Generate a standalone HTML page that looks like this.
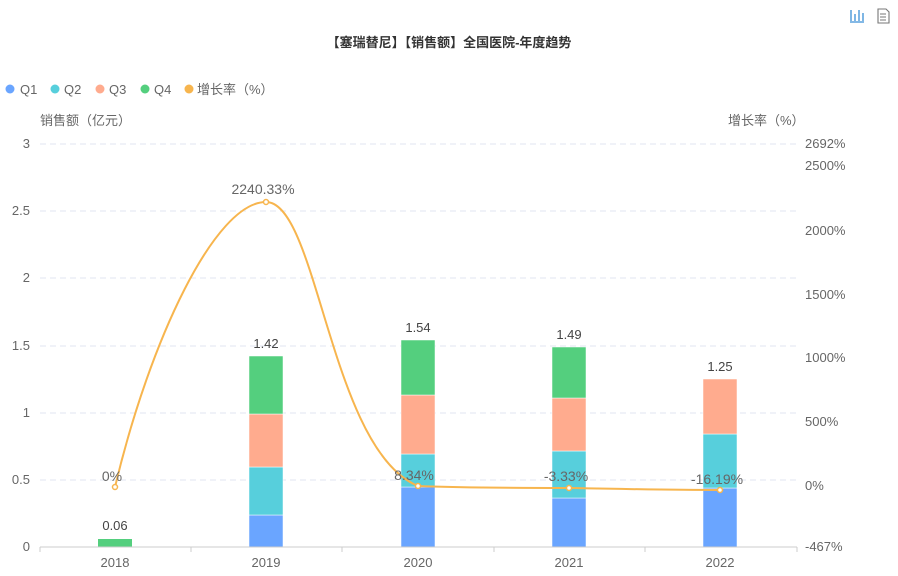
<!DOCTYPE html>
<html><head><meta charset="utf-8"><style>
body{margin:0;background:#fff;}
svg{display:block;font-family:"Liberation Sans","Noto Sans CJK SC",sans-serif;}
</style></head><body>
<svg width="898" height="576" viewBox="0 0 898 576">
<g stroke="#3a8fd6" stroke-width="1.3" fill="none"><path d="M851 10v11M855 14v7M859 10v11M863 13v8M850 22h14"/></g>
<g stroke="#777" stroke-width="1.1" fill="none"><path d="M878 9h8l3 3v11h-11z M880 14h6M880 17h6M880 20h6"/></g>
<text x="449" y="47" text-anchor="middle" font-size="13" font-weight="bold" fill="#333">【塞瑞替尼】【销售额】全国医院-年度趋势</text>
<g font-size="13" fill="#666">
<circle cx="10" cy="89" r="4.5" fill="#6aa5ff"/><text x="20" y="94">Q1</text>
<circle cx="55" cy="89" r="4.5" fill="#57cfdc"/><text x="64" y="94">Q2</text>
<circle cx="100" cy="89" r="4.5" fill="#ffab8e"/><text x="109" y="94">Q3</text>
<circle cx="145" cy="89" r="4.5" fill="#54cf7e"/><text x="154" y="94">Q4</text>
<circle cx="189" cy="89" r="4.5" fill="#f7b54e"/><text x="197" y="94">增长率（%）</text>
<text x="40" y="125">销售额（亿元）</text>
<text x="728" y="125">增长率（%）</text>
</g>
<g stroke="#e0e6f1" stroke-dasharray="6,4" stroke-width="1">
<line x1="40" y1="144" x2="797" y2="144"/><line x1="40" y1="211" x2="797" y2="211"/>
<line x1="40" y1="278" x2="797" y2="278"/><line x1="40" y1="346" x2="797" y2="346"/>
<line x1="40" y1="413" x2="797" y2="413"/><line x1="40" y1="480" x2="797" y2="480"/>
</g>
<g font-size="13" fill="#666" text-anchor="end">
<text x="30" y="148">3</text><text x="30" y="215">2.5</text><text x="30" y="282">2</text>
<text x="30" y="350">1.5</text><text x="30" y="417">1</text><text x="30" y="484">0.5</text><text x="30" y="551">0</text>
</g>
<g font-size="13" fill="#666">
<text x="805" y="148">2692%</text><text x="805" y="170">2500%</text><text x="805" y="235">2000%</text>
<text x="805" y="299">1500%</text><text x="805" y="362">1000%</text><text x="805" y="426">500%</text>
<text x="805" y="490">0%</text><text x="805" y="551">-467%</text>
</g>
<rect x="98" y="539" width="34" height="8" fill="#54cf7e"/>
<g stroke="#fff" stroke-width="0.5">
<rect x="249" y="515" width="34" height="32" fill="#6aa5ff"/>
<rect x="249" y="467" width="34" height="48" fill="#57cfdc"/>
<rect x="249" y="414" width="34" height="53" fill="#ffab8e"/>
<rect x="249" y="356" width="34" height="58" fill="#54cf7e"/>
<rect x="401" y="487" width="34" height="60" fill="#6aa5ff"/>
<rect x="401" y="454" width="34" height="33" fill="#57cfdc"/>
<rect x="401" y="395" width="34" height="59" fill="#ffab8e"/>
<rect x="401" y="340" width="34" height="55" fill="#54cf7e"/>
<rect x="552" y="498" width="34" height="49" fill="#6aa5ff"/>
<rect x="552" y="451" width="34" height="47" fill="#57cfdc"/>
<rect x="552" y="398" width="34" height="53" fill="#ffab8e"/>
<rect x="552" y="347" width="34" height="51" fill="#54cf7e"/>
<rect x="703" y="488" width="34" height="59" fill="#6aa5ff"/>
<rect x="703" y="434" width="34" height="54" fill="#57cfdc"/>
<rect x="703" y="379" width="34" height="55" fill="#ffab8e"/>
</g>
<line x1="40" y1="547" x2="797" y2="547" stroke="#ccc"/>
<g stroke="#ccc"><line x1="40" y1="547" x2="40" y2="552"/><line x1="191" y1="547" x2="191" y2="552"/><line x1="342" y1="547" x2="342" y2="552"/><line x1="494" y1="547" x2="494" y2="552"/><line x1="645" y1="547" x2="645" y2="552"/><line x1="797" y1="547" x2="797" y2="552"/></g>
<g font-size="13" fill="#666" text-anchor="middle">
<text x="115" y="567">2018</text><text x="266" y="567">2019</text><text x="418" y="567">2020</text><text x="569" y="567">2021</text><text x="720" y="567">2022</text>
</g>
<g font-size="13" fill="#444" text-anchor="middle">
<text x="115" y="530">0.06</text><text x="266" y="348">1.42</text><text x="418" y="332">1.54</text>
<text x="569" y="339">1.49</text><text x="720" y="371">1.25</text>
</g>
<path d="M115,487 C150,340 215,202 266,202 C318,202 330,450 418,486 C470,488 520,488 569,488 C620,489 670,490 720,490" fill="none" stroke="#f7b54e" stroke-width="2"/>
<g fill="#fff" stroke="#f7b54e" stroke-width="1.5">
<circle cx="115" cy="487" r="2.5"/><circle cx="266" cy="202" r="2.5"/><circle cx="418" cy="486" r="2.5"/><circle cx="569" cy="488" r="2.5"/><circle cx="720" cy="490" r="2.5"/>
</g>
<g font-size="14" fill="#666" text-anchor="middle">
<text x="112" y="481">0%</text><text x="263" y="194">2240.33%</text><text x="414" y="480">8.34%</text>
<text x="566" y="481">-3.33%</text><text x="717" y="484">-16.19%</text>
</g>
</svg>
</body></html>
